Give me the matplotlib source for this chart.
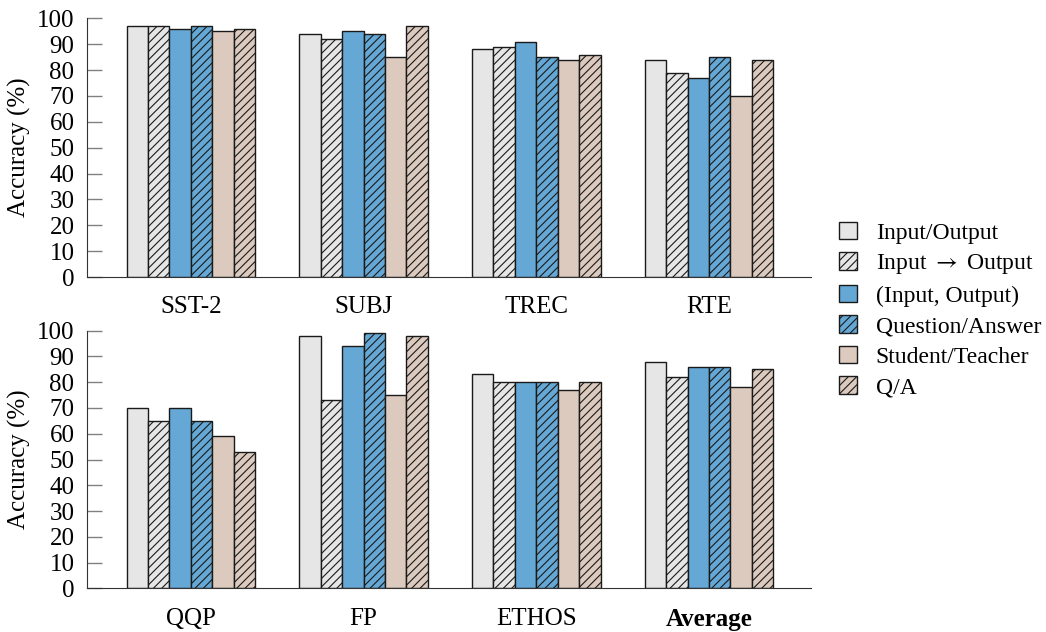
import matplotlib
matplotlib.use('Agg')
import matplotlib.pyplot as plt
import numpy as np

plt.rcParams['font.family'] = ['Liberation Serif', 'DejaVu Serif']
plt.rcParams['mathtext.fontset'] = 'stix'
plt.rcParams['hatch.linewidth'] = 0.8

# data
series = ['Input/Output', r'Input $\rightarrow$ Output', '(Input, Output)',
          'Question/Answer', 'Student/Teacher', 'Q/A']
colors = ['#E6E6E6', '#E6E6E6', '#65A8D5', '#65A8D5', '#DBCABD', '#DBCABD']
hatches = ['', '////', '', '////', '', '////']

top_tasks = ['SST-2', 'SUBJ', 'TREC', 'RTE']
top_values = [
    [97, 94, 88, 84],   # Input/Output
    [97, 92, 89, 79],   # Input -> Output
    [96, 95, 91, 77],   # (Input, Output)
    [97, 94, 85, 85],   # Question/Answer
    [95, 85, 84, 70],   # Student/Teacher
    [96, 97, 86, 84],   # Q/A
]

bottom_tasks = ['QQP', 'FP', 'ETHOS', 'Average']
bottom_values = [
    [70, 98, 83, 88],
    [65, 73, 80, 82],
    [70, 94, 80, 86],
    [65, 99, 80, 86],
    [59, 75, 77, 78],
    [53, 98, 80, 85],
]

W, H = 1046, 632
fig = plt.figure(figsize=(W / 100, H / 100), dpi=100)
ax_top = fig.add_axes([87 / W, 1 - 277 / H, (811 - 87) / W, (277 - 18.3) / H])
ax_bot = fig.add_axes([87 / W, 1 - 588.3 / H, (811 - 87) / W, (588.3 - 330.7) / H])

bar_w = 0.124


def draw_panel(ax, tasks, values):
    x = np.arange(len(tasks))
    handles = []
    for k, vals in enumerate(values):
        b = ax.bar(x + (k - 2.5) * bar_w, vals, bar_w, color=colors[k],
                   edgecolor='#1a1a1a', linewidth=1.0, hatch=hatches[k],
                   label=series[k], zorder=2)
        handles.append(b)
    ax.set_xlim(-0.601, 3.59)
    ax.set_ylim(0, 100)
    ax.set_yticks(np.arange(0, 101, 10))
    ax.set_xticks(x)
    ax.set_xticklabels(tasks)
    ax.tick_params(axis='x', length=0, pad=14, labelsize=18)
    ax.tick_params(axis='y', direction='in', length=11, width=1.0,
                   color='#808080', pad=9, labelsize=18)
    ax.spines['top'].set_visible(False)
    ax.spines['right'].set_visible(False)
    ax.spines['left'].set_color('#333333')
    ax.spines['bottom'].set_color('#333333')
    ax.set_ylabel('Accuracy (%)', fontsize=18, labelpad=4)
    return handles


handles = draw_panel(ax_top, top_tasks, top_values)
draw_panel(ax_bot, bottom_tasks, bottom_values)
ax_bot.get_xticklabels()[-1].set_fontweight('bold')

fig.legend(handles=handles, labels=series, loc='center left',
           bbox_to_anchor=(839 / W, 1 - 310 / H), frameon=False,
           fontsize=17, handlelength=0.76, handleheight=0.76,
           handletextpad=0.8, labelspacing=0.36, borderpad=0,
           borderaxespad=0)

fig.savefig('out.png', dpi=100)
